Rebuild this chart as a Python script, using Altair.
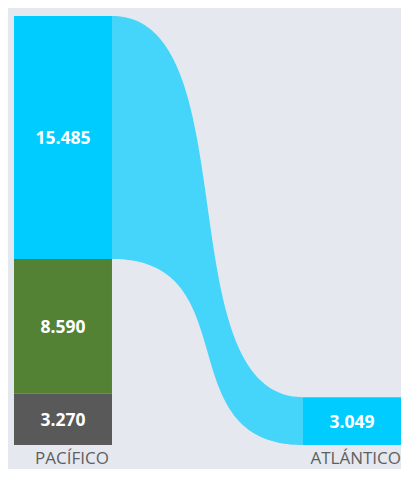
import altair as alt
import numpy as np
import pandas as pd

# ---- data ----
nodes = ["PACÍFICO", "ATLÁNTICO"]
pacifico_values = [15.485, 8.590, 3.270]          # top -> bottom
pacifico_colors = ["#00ccff", "#548235", "#595959"]
atlantico_values = [3.049]
atlantico_colors = ["#00ccff"]
flow_color = "#45d4fa"

# ---- layout constants (x in 0..1 of plot width) ----
BAR_W = 0.2532
LEFT_X = 0.0
RIGHT_X = 1.0 - BAR_W
C1, C2 = 0.72, 0.28  # bezier control fractions for the link

total_left = sum(pacifico_values)

# bars
rows = []
top = total_left
for v, c in zip(pacifico_values, pacifico_colors):
    rows.append(dict(node=nodes[0], x=LEFT_X, x2=LEFT_X + BAR_W, y=top - v, y2=top,
                     mid=top - v / 2, label=f"{v:.3f}", color=c, xc=LEFT_X + BAR_W / 2))
    top -= v
top = sum(atlantico_values)
for v, c in zip(atlantico_values, atlantico_colors):
    rows.append(dict(node=nodes[1], x=RIGHT_X, x2=RIGHT_X + BAR_W, y=top - v, y2=top,
                     mid=top - v / 2, label=f"{v:.3f}", color=c, xc=RIGHT_X + BAR_W / 2))
    top -= v
bars = pd.DataFrame(rows)

# flow band from the top Pacific segment to the Atlantic bar
src_top, src_bot = total_left, total_left - pacifico_values[0]
dst_top, dst_bot = atlantico_values[0], 0.0
t = np.linspace(0, 1, 121)
bx = 3 * t * (1 - t) ** 2 * C1 + 3 * t ** 2 * (1 - t) * C2 + t ** 3
by = 3 * t ** 2 - 2 * t ** 3
x0, x1 = LEFT_X + BAR_W, RIGHT_X
band = pd.DataFrame({
    "x": x0 + (x1 - x0) * bx,
    "ytop": src_top + (dst_top - src_top) * by,
    "ybot": src_bot + (dst_bot - src_bot) * by,
})

left_label = pd.DataFrame({"node": [nodes[0]], "xc": [LEFT_X + BAR_W / 2], "y": [0]})
right_label = pd.DataFrame({"node": [nodes[1]], "xc": [RIGHT_X + BAR_W], "y": [0]})

xs = alt.Scale(domain=[0, 1], nice=False, zero=False)
ys = alt.Scale(domain=[0, total_left], nice=False, zero=False)

flow = alt.Chart(band).mark_area(color=flow_color, interpolate="linear").encode(
    x=alt.X("x:Q", scale=xs, axis=None),
    y=alt.Y("ytop:Q", scale=ys, axis=None),
    y2="ybot:Q",
)

rects = alt.Chart(bars).mark_rect().encode(
    x=alt.X("x:Q", scale=xs, axis=None),
    x2="x2:Q",
    y=alt.Y("y:Q", scale=ys, axis=None),
    y2="y2:Q",
    color=alt.Color("color:N", scale=None),
)

values = alt.Chart(bars).mark_text(
    font="Open Sans", fontSize=17.5, fontWeight="bold", color="white",
    align="center", baseline="middle", dy=2,
).encode(
    x=alt.X("xc:Q", scale=xs, axis=None),
    y=alt.Y("mid:Q", scale=ys, axis=None),
    text="label:N",
)

name_left = alt.Chart(left_label).mark_text(
    font="Open Sans", fontSize=17, color="#5f5f5f",
    align="center", baseline="middle", dx=9, dy=14,
).encode(
    x=alt.X("xc:Q", scale=xs, axis=None),
    y=alt.Y("y:Q", scale=ys, axis=None),
    text="node:N",
)

name_right = alt.Chart(right_label).mark_text(
    font="Open Sans", fontSize=17, color="#5f5f5f",
    align="right", baseline="middle", dx=0, dy=14,
).encode(
    x=alt.X("xc:Q", scale=xs, axis=None),
    y=alt.Y("y:Q", scale=ys, axis=None),
    text="node:N",
)

chart = alt.layer(flow, rects, values, name_left, name_right).properties(
    width=387, height=429,
    padding={"left": 6, "top": 8, "right": 0, "bottom": 24},
    autosize=alt.AutoSizeParams(type="none"),
    background="#e5e9ef",
).configure_view(stroke=None)

chart.save("out.html", embed_options={"renderer": "svg", "actions": False})
